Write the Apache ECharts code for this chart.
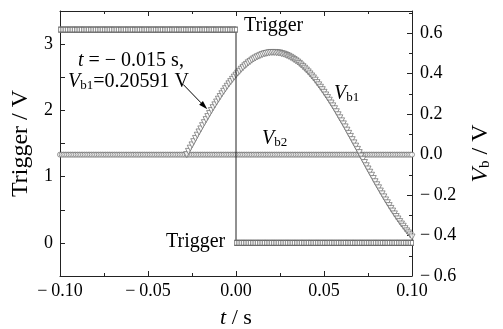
<!DOCTYPE html>
<html><head><meta charset="utf-8">
<script src="https://cdn.jsdelivr.net/npm/echarts@6/dist/echarts.min.js"></script>
<style>html,body{margin:0;padding:0;background:#fff}#c{width:503px;height:329px}</style>
</head><body><div id="c"></div>
<script>
// ---- data ----
const tMin = -0.1, tMax = 0.1, dt = 0.001;          // sampling grid of the recording (s)
const triggerHigh = 3.22;                            // Trigger level before t = 0 (V)
const triggerLow = 0.0;                              // Trigger level after t = 0 (V)
const vb2Level = 0.0;                                // V_b2 level (V)
const vb1Start = -0.028;                             // first V_b1 sample (s)
const vb1Values = [
  0.000,0.016,0.032,0.048,0.064,0.080,0.096,0.112,0.127,0.143,
  0.158,0.173,0.188,0.203,0.218,0.232,0.246,0.260,0.274,0.287,
  0.301,0.313,0.326,0.338,0.350,0.361,0.372,0.383,0.393,0.403,
  0.412,0.422,0.430,0.439,0.446,0.454,0.460,0.467,0.473,0.478,
  0.483,0.487,0.491,0.495,0.498,0.500,0.502,0.504,0.505,0.505,
  0.505,0.504,0.503,0.502,0.499,0.497,0.494,0.490,0.486,0.481,
  0.476,0.470,0.464,0.458,0.451,0.443,0.435,0.427,0.418,0.409,
  0.399,0.389,0.379,0.368,0.356,0.345,0.333,0.321,0.308,0.295,
  0.282,0.269,0.255,0.241,0.227,0.212,0.197,0.182,0.167,0.152,
  0.137,0.121,0.105,0.090,0.074,0.058,0.042,0.026,0.010,-0.007,
  -0.023,-0.039,-0.055,-0.071,-0.087,-0.102,-0.118,-0.134,-0.149,-0.164,
  -0.180,-0.194,-0.209,-0.224,-0.238,-0.252,-0.266,-0.279,-0.293,-0.306,
  -0.318,-0.331,-0.343,-0.354,-0.366,-0.377,-0.387,-0.397,-0.407
];
const arrowFrom = [-0.030, 0.347];   // annotation arrow, in (t, Vb) units
const arrowTo = [-0.0163, 0.224];

// ---- build series data ----
const times = [];
for (let i = 0; Math.round((tMin + i * dt) * 1000) <= Math.round(tMax * 1000); i++) times.push(+(tMin + i * dt).toFixed(3));
const triggerData = times.filter(t => t <= 0).map(t => [t, triggerHigh])
  .concat(times.filter(t => t >= 0).map(t => [t, triggerLow]));
const vb1Data = vb1Values.map((v, k) => [+(vb1Start + k * dt).toFixed(3), v]);
const vb2Data = times.map(t => [t, vb2Level]);

const FF = 'Liberation Serif';
const AX = '#222';
const MK = '#6a6a6a';

function xFmt(v) {
  const r = Math.round(v * 100) / 100;
  if (Math.abs(r) < 1e-9) return '0.00';
  return (r < 0 ? '\u2212\u2009' : '') + Math.abs(r).toFixed(2);
}
function yLeftFmt(v) {
  const r = Math.round(v * 2) / 2;
  return Number.isInteger(r) ? String(r) : '';
}
function yRightFmt(v) {
  const k = Math.round(v * 10);
  if (Math.abs(v * 10 - k) > 0.05 || k % 2 !== 0) return '';
  if (k === 0) return '0.0';
  return (k < 0 ? '\u2212\u2009' : '') + Math.abs(k / 10).toFixed(1);
}

const axisCommon = {
  axisLine: { show: true, onZero: false, lineStyle: { color: AX, width: 1 } },
  axisTick: { show: true, inside: true, length: 5, lineStyle: { color: AX, width: 1 } },
  minorTick: { show: true, splitNumber: 2, length: 3, lineStyle: { color: AX, width: 1 } },
  splitLine: { show: false },
  minorSplitLine: { show: false }
};

function subText(id, left, top, main, sub) {
  return { type: 'text', id: id, left: left, top: top, style: {
    text: '{i|' + main + '}{s|' + sub + '}', fontFamily: FF, fontSize: 20, fill: '#000',
    rich: { i: { fontStyle: 'italic', fontFamily: FF, fontSize: 20, verticalAlign: 'bottom', lineHeight: 22 },
            s: { fontFamily: FF, fontSize: 13, verticalAlign: 'bottom', lineHeight: 10 } } } };
}

const chart = echarts.init(document.getElementById('c'), null, { renderer: 'canvas' });
chart.setOption({
  animation: false,
  backgroundColor: '#fff',
  grid: { left: 60, right: 91, top: 11, bottom: 53, containLabel: false, outerBoundsMode: 'none' },
  xAxis: [
    Object.assign({
      type: 'value', position: 'bottom', min: tMin, max: tMax, interval: 0.05,
      axisLabel: { formatter: xFmt, fontFamily: FF, fontSize: 18, color: '#000', margin: 6 },
      name: '{i|t} / s', nameLocation: 'middle', nameGap: 31,
      nameTextStyle: { fontFamily: FF, fontSize: 22, color: '#000', rich: { i: { fontStyle: 'italic', fontFamily: FF, fontSize: 22 } } }
    }, axisCommon),
    Object.assign({
      type: 'value', position: 'top', min: tMin, max: tMax, interval: 0.05,
      axisLabel: { show: false }
    }, axisCommon)
  ],
  yAxis: [
    Object.assign({
      type: 'value', position: 'left', min: -0.5, max: 3.5, interval: 0.5,
      axisLabel: { formatter: yLeftFmt, fontFamily: FF, fontSize: 18, color: '#000', margin: 7 },
      name: 'Trigger / V', nameLocation: 'middle', nameGap: 25,
      nameTextStyle: { fontFamily: FF, fontSize: 24, color: '#000' }
    }, axisCommon, { minorTick: { show: false } }),
    Object.assign({
      type: 'value', position: 'right', min: -0.6, max: 0.71, interval: 0.2,
      axisLabel: { formatter: yRightFmt, fontFamily: FF, fontSize: 18, color: '#000', margin: 8, showMaxLabel: false },
      name: '{i|V}{s|b}{n| / V}', nameLocation: 'middle', nameGap: 55,
      nameTextStyle: { fontFamily: FF, fontSize: 24, color: '#000', padding: [0, 20, 0, 0],
        rich: { i: { fontStyle: 'italic', fontFamily: FF, fontSize: 24, verticalAlign: 'bottom', lineHeight: 26 },
                s: { fontFamily: FF, fontSize: 15, verticalAlign: 'bottom', lineHeight: 11 },
                n: { fontFamily: FF, fontSize: 24, verticalAlign: 'bottom', lineHeight: 26 } } }
    }, axisCommon)
  ],
  series: [
    {
      name: 'Vb1', type: 'scatter', xAxisIndex: 0, yAxisIndex: 1, data: vb1Data,
      symbol: 'triangle', symbolRotate: 180, symbolSize: 6,
      itemStyle: { color: '#fff', borderColor: MK, borderWidth: 0.9 },
      z: 3
    },
    {
      name: 'Vb2', type: 'scatter', xAxisIndex: 0, yAxisIndex: 1, data: vb2Data,
      symbol: 'circle', symbolSize: 5,
      itemStyle: { color: '#fff', borderColor: MK, borderWidth: 0.9 },
      z: 2
    },
    {
      name: 'Trigger', type: 'line', xAxisIndex: 0, yAxisIndex: 0, data: triggerData,
      symbol: 'rect', symbolSize: [3, 5], showAllSymbol: true,
      lineStyle: { color: '#222', width: 1 },
      itemStyle: { color: '#fff', borderColor: MK, borderWidth: 0.9 },
      z: 4
    }
  ],
  graphic: [
    { type: 'text', id: 'trTop', left: 244, top: 16, style: { text: 'Trigger', fontFamily: FF, fontSize: 20, fill: '#000' } },
    { type: 'text', id: 'trBot', left: 166, top: 232, style: { text: 'Trigger', fontFamily: FF, fontSize: 20, fill: '#000' } },
    { type: 'text', id: 'ann1', left: 78, top: 51, style: {
        text: '{i|t} = \u2212 0.015 s,', fontFamily: FF, fontSize: 20, fill: '#000',
        rich: { i: { fontStyle: 'italic', fontFamily: FF, fontSize: 20 } } } },
    { type: 'text', id: 'ann2', left: 68, top: 72, style: {
        text: '{i|V}{s|b1}{n|=0.20591 V}', fontFamily: FF, fontSize: 20, fill: '#000',
        rich: { i: { fontStyle: 'italic', fontFamily: FF, fontSize: 20, verticalAlign: 'bottom', lineHeight: 22 },
                s: { fontFamily: FF, fontSize: 13, verticalAlign: 'bottom', lineHeight: 10 },
                n: { fontFamily: FF, fontSize: 20, verticalAlign: 'bottom', lineHeight: 22 } } } },
    subText('lb1', 334, 84, 'V', 'b1'),
    subText('lb2', 262, 129, 'V', 'b2')
  ]
});

// annotation arrow placed through the Vb axis scale
const p1 = chart.convertToPixel({ seriesIndex: 0 }, arrowFrom);
const p2 = chart.convertToPixel({ seriesIndex: 0 }, arrowTo);
const dx = p2[0] - p1[0], dy = p2[1] - p1[1], L = Math.hypot(dx, dy);
const ux = dx / L, uy = dy / L, hl = 9, hw = 2.6;
const bx = p2[0] - ux * hl, by = p2[1] - uy * hl;
chart.setOption({
  graphic: [
    { type: 'line', id: 'arrLine', shape: { x1: p1[0], y1: p1[1], x2: bx, y2: by }, style: { stroke: '#000', lineWidth: 1 }, z: 10 },
    { type: 'polygon', id: 'arrHead', shape: { points: [[p2[0], p2[1]], [bx - uy * hw, by + ux * hw], [bx + uy * hw, by - ux * hw]] }, style: { fill: '#000' }, z: 10 }
  ]
});
</script>
</body></html>
